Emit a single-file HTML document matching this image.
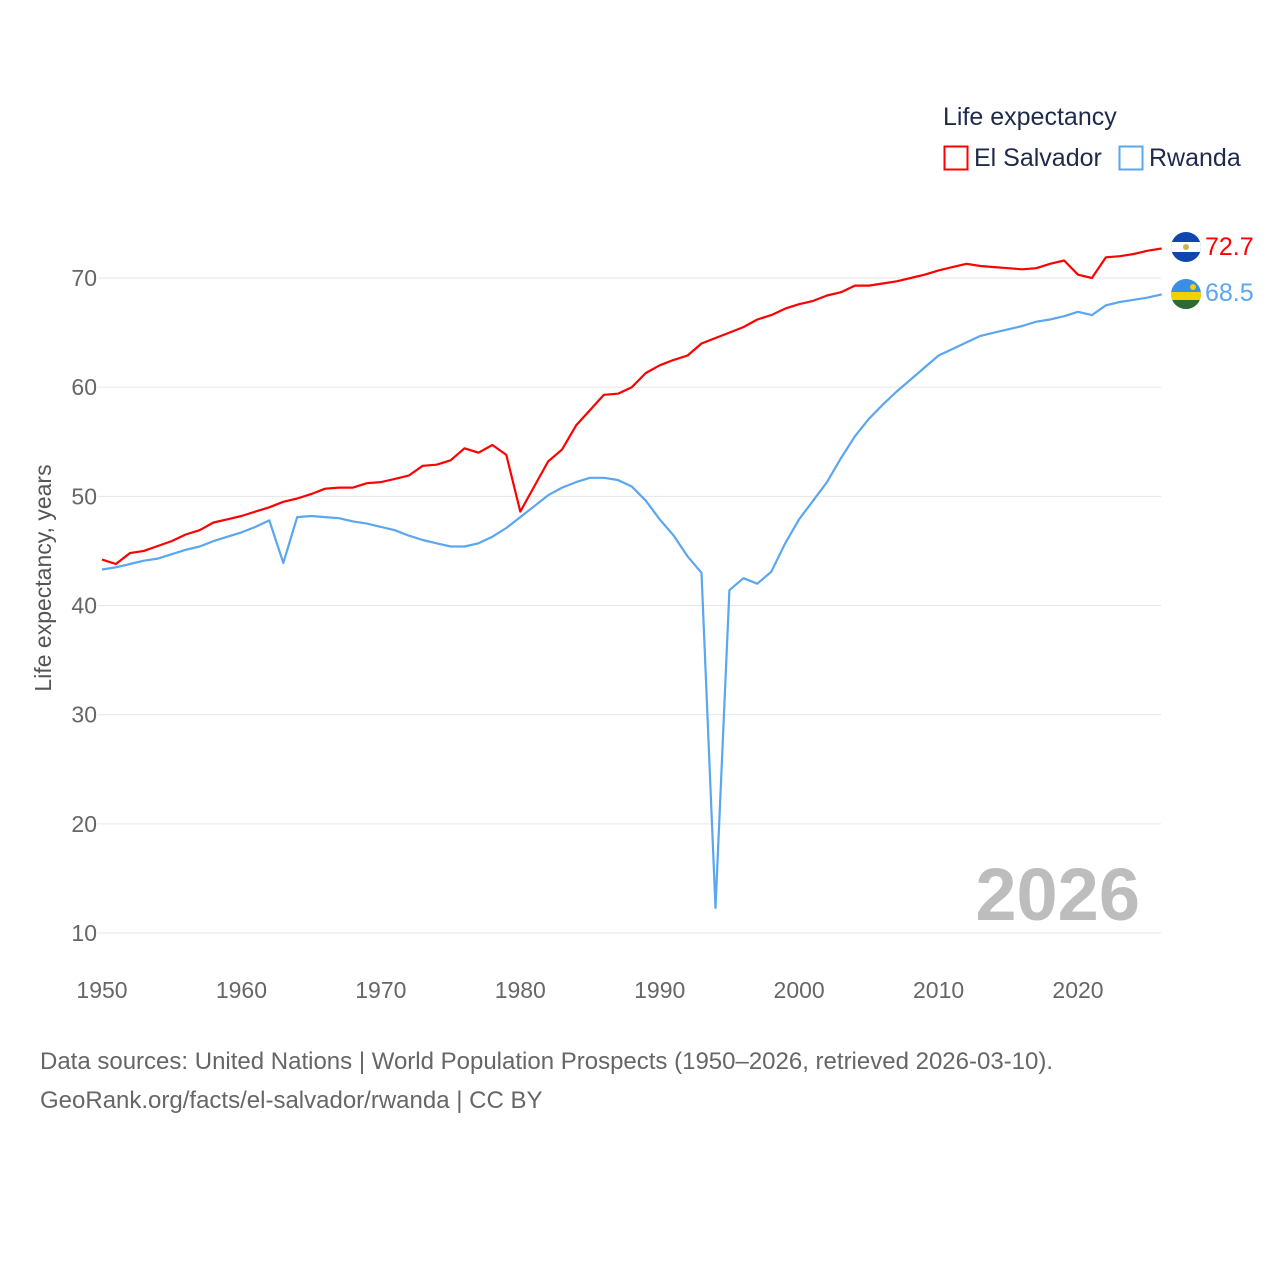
<!DOCTYPE html>
<html><head><meta charset="utf-8">
<style>
html,body{margin:0;padding:0;background:#fff;}
body{width:1280px;height:1280px;overflow:hidden;font-family:"Liberation Sans",sans-serif;}
svg text{font-family:"Liberation Sans",sans-serif;}
</style></head>
<body>
<svg id="chart" width="1280" height="1280" xmlns="http://www.w3.org/2000/svg">
  <text x="943" y="125" font-size="25" fill="#1d2a4a">Life expectancy</text>
  <g>
    <rect x="944.5" y="146.5" width="23" height="23" fill="none" stroke="#ff0000" stroke-width="2"/>
    <text x="974" y="166" font-size="25" fill="#1d2a4a">El Salvador</text>
  </g>
  <g>
    <rect x="1119.5" y="146.5" width="23" height="23" fill="none" stroke="#5aa6f0" stroke-width="2"/>
    <text x="1149" y="166" font-size="25" fill="#1d2a4a">Rwanda</text>
  </g>
  <g id="grid"></g>
  <g id="yticks"></g>
  <g id="xticks"></g>
  <text transform="translate(51,578) rotate(-90)" text-anchor="middle" font-size="23" fill="#555">Life expectancy, years</text>
  <text x="1140" y="920" text-anchor="end" font-size="74" font-weight="bold" fill="#bdbdbd">2026</text>
  <g id="series"></g>
  <g>
    <clipPath id="c1"><circle cx="1186" cy="247" r="15"/></clipPath>
    <g clip-path="url(#c1)"><rect x="1170" y="231" width="32" height="32" fill="#0f47af"/><rect x="1170" y="242" width="32" height="10" fill="#fff"/><circle cx="1186" cy="247" r="3" fill="#d4b04a"/></g>
  </g>
  <g>
    <clipPath id="c2"><circle cx="1186" cy="294" r="15"/></clipPath>
    <g clip-path="url(#c2)"><rect x="1170" y="278" width="32" height="32" fill="#3a8ee6"/><rect x="1170" y="292" width="32" height="8" fill="#f5d000"/><rect x="1170" y="300" width="32" height="10" fill="#2f6a36"/><circle cx="1193" cy="287" r="3" fill="#f5d000"/></g>
  </g>
  <text id="lbl1" x="1205" y="255" font-size="25" fill="#ff0000"></text>
  <text id="lbl2" x="1205" y="301" font-size="25" fill="#5aa6f0"></text>
  <text x="40" y="1069" font-size="24" fill="#666">Data sources: United Nations | World Population Prospects (1950–2026, retrieved 2026-03-10).</text>
  <text x="40" y="1108" font-size="24" fill="#666">GeoRank.org/facts/el-salvador/rwanda | CC BY</text>
</svg>
<script>
const startYear = 1950;
const yTicks = [10,20,30,40,50,60,70];
const xTicks = [1950,1960,1970,1980,1990,2000,2010,2020];
const elSalvador = [44.2,43.8,44.8,45.0,45.45,45.9,46.5,46.9,47.6,47.9,48.2,48.6,49.0,49.5,49.8,50.2,50.7,50.8,50.8,51.2,51.3,51.6,51.9,52.8,52.9,53.3,54.4,54.0,54.7,53.8,48.6,50.9,53.2,54.3,56.5,57.9,59.3,59.4,60.0,61.3,62.0,62.5,62.9,64.0,64.5,65.0,65.5,66.2,66.6,67.2,67.6,67.9,68.4,68.7,69.3,69.3,69.5,69.7,70.0,70.3,70.7,71.0,71.3,71.1,71.0,70.9,70.8,70.9,71.3,71.6,70.3,70.0,71.9,72.0,72.2,72.5,72.7];
const rwanda = [43.3,43.5,43.8,44.1,44.3,44.7,45.1,45.4,45.9,46.3,46.7,47.2,47.8,43.9,48.1,48.2,48.1,48.0,47.7,47.5,47.2,46.9,46.4,46.0,45.7,45.4,45.4,45.7,46.3,47.1,48.1,49.1,50.1,50.8,51.3,51.7,51.7,51.5,50.9,49.6,47.9,46.4,44.5,43.0,12.3,41.4,42.5,42.0,43.1,45.7,47.9,49.6,51.3,53.5,55.5,57.1,58.4,59.6,60.7,61.8,62.9,63.5,64.1,64.7,65.0,65.3,65.6,66.0,66.2,66.5,66.9,66.6,67.5,67.8,68.0,68.2,68.5];
const NS="http://www.w3.org/2000/svg";
function xs(yr){return 102+(yr-1950)*(1078-102)/70;}
function ys(v){return 933-(v-10)*(655/60);}
const grid=document.getElementById('grid'),yt=document.getElementById('yticks'),xt=document.getElementById('xticks'),ser=document.getElementById('series');
yTicks.forEach(v=>{
  const l=document.createElementNS(NS,'line');
  
  
  l.setAttribute('x1',98);l.setAttribute('x2',1161);l.setAttribute('y1',ys(v));l.setAttribute('y2',ys(v));
  l.setAttribute('stroke','#e6e6e6');l.setAttribute('stroke-width','1');grid.appendChild(l);
  const t=document.createElementNS(NS,'text');
  
  
  t.setAttribute('x',97);t.setAttribute('y',ys(v)+8);t.setAttribute('text-anchor','end');
  t.setAttribute('font-size','23');t.setAttribute('fill','#666');t.textContent=v;yt.appendChild(t);
});
xTicks.forEach(yr=>{
  const t=document.createElementNS(NS,'text');
  
  
  t.setAttribute('x',xs(yr));t.setAttribute('y',998);t.setAttribute('text-anchor','middle');
  t.setAttribute('font-size','23');t.setAttribute('fill','#666');t.textContent=yr;xt.appendChild(t);
});
function line(data,color,name){
  const p=document.createElementNS(NS,'path');
  
  
  p.setAttribute('d',data.map((v,i)=>(i?'L':'M')+xs(startYear+i).toFixed(1)+','+ys(v).toFixed(1)).join(''));
  p.setAttribute('fill','none');p.setAttribute('stroke',color);p.setAttribute('stroke-width','2.2');
  p.setAttribute('stroke-linejoin','round');ser.appendChild(p);
}
line(rwanda,'#5aa6f0','line-rwanda');
line(elSalvador,'#ff0000','line-el-salvador');
document.getElementById('lbl1').textContent=elSalvador[elSalvador.length-1].toFixed(1);
document.getElementById('lbl2').textContent=rwanda[rwanda.length-1].toFixed(1);
</script>
</body></html>
